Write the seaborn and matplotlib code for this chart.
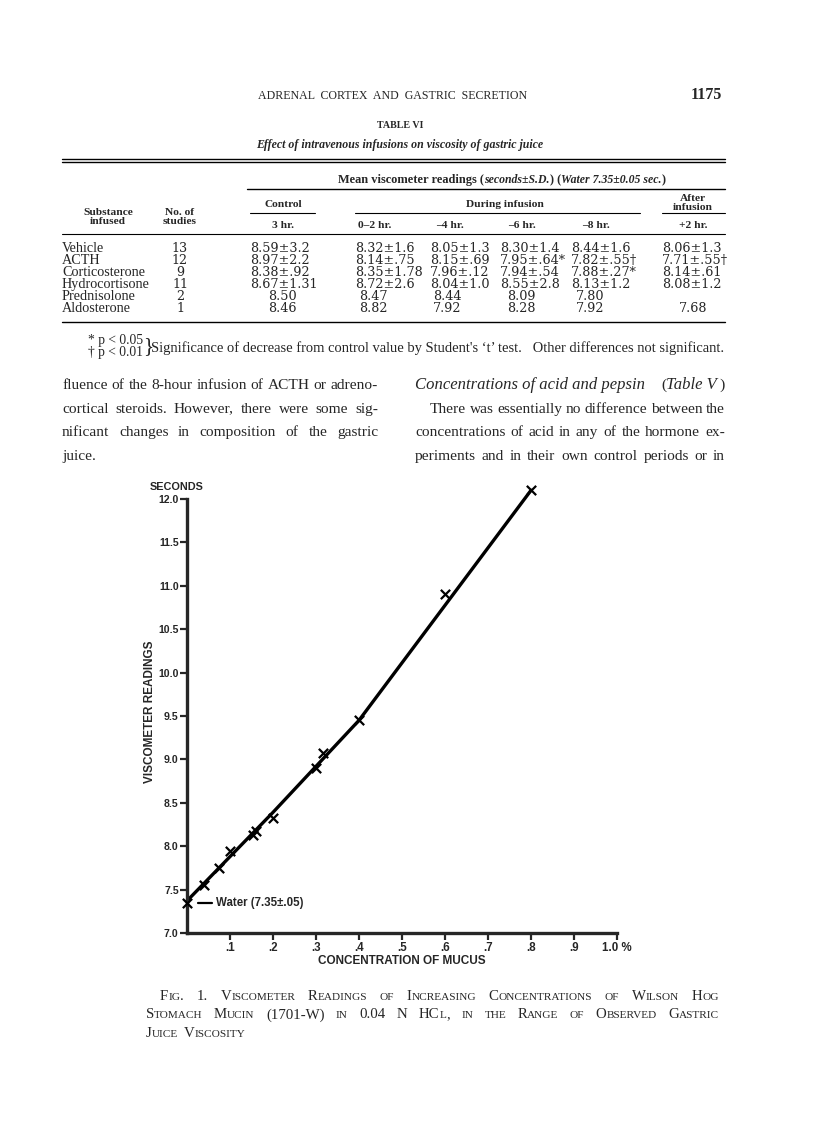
import numpy as np
import pandas as pd
import matplotlib
matplotlib.use('Agg')
import matplotlib.pyplot as plt
import seaborn as sns
from itertools import groupby

W, H = 816, 1133

# ---- chart data (Fig. 1) ----
conc = [0.0, 0.04, 0.075, 0.10, 0.153, 0.16, 0.20, 0.30, 0.317, 0.40, 0.60, 0.80]
readings = [7.35, 7.55, 7.75, 7.95, 8.13, 8.17, 8.32, 8.90, 9.07, 9.45, 10.91, 12.10]
curve_x = [0.0, 0.1, 0.2, 0.3, 0.4, 0.8]
curve_y = [7.37, 7.88, 8.39, 8.92, 9.45, 12.10]
xtick_vals = [0.1, 0.2, 0.3, 0.4, 0.5, 0.6, 0.7, 0.8, 0.9, 1.0]
xtick_labels = ['.1', '.2', '.3', '.4', '.5', '.6', '.7', '.8', '.9', '1.0 %']
ytick_vals = [7.0, 7.5, 8.0, 8.5, 9.0, 9.5, 10.0, 10.5, 11.0, 11.5, 12.0]

# ---- table VI data ----
substances = ['Vehicle', 'ACTH', 'Corticosterone', 'Hydrocortisone', 'Prednisolone', 'Aldosterone']
n_studies = ['13', '12', '9', '11', '2', '1']
control_3hr = ['8.59\u00b13.2', '8.97\u00b12.2', '8.38\u00b1.92', '8.67\u00b11.31', '8.50', '8.46']
during_2hr = ['8.32\u00b11.6', '8.14\u00b1.75', '8.35\u00b11.78', '8.72\u00b12.6', '8.47', '8.82']
during_4hr = ['8.05\u00b11.3', '8.15\u00b1.69', '7.96\u00b1.12', '8.04\u00b11.0', '8.44', '7.92']
during_6hr = ['8.30\u00b11.4', '7.95\u00b1.64*', '7.94\u00b1.54', '8.55\u00b12.8', '8.09', '8.28']
during_8hr = ['8.44\u00b11.6', '7.82\u00b1.55\u2020', '7.88\u00b1.27*', '8.13\u00b11.2', '7.80', '7.92']
after_2hr = ['8.06\u00b11.3', '7.71\u00b1.55\u2020', '8.14\u00b1.61', '8.08\u00b11.2', '', '7.68']

left_lines = ['fluence of the 8-hour infusion of ACTH or adreno-',
              'cortical steroids.  However, there were some sig-',
              'nificant changes in composition of the gastric',
              'juice.']
right_lines = ['There was essentially no difference between the',
               'concentrations of acid in any of the hormone ex-',
               'periments and in their own control periods or in']
caption = ['Fig. 1. Viscometer Readings of Increasing Concentrations of Wilson Hog',
           'Stomach Mucin (1701-W) in 0.04 N HCl, in the Range of Observed Gastric',
           'Juice Viscosity']

sns.set_style('ticks')
plt.rcParams['font.family'] = ['Liberation Serif', 'DejaVu Serif']

fig = plt.figure(figsize=(W / 100, H / 100), dpi=100)
renderer = fig.canvas.get_renderer()


def px(x, y):
    return x / W, 1 - y / H


def txt(x, y, s, **kw):
    kw.setdefault('va', 'baseline')
    return fig.text(*px(x, y), s, **kw)


def hline(x0, x1, y, lw=0.8):
    fig.add_artist(plt.Line2D([x0 / W, x1 / W], [1 - y / H, 1 - y / H],
                              color='black', lw=lw, transform=fig.transFigure))


def adv(s, **kw):
    # advance width in pixels (bar trick cancels the ink-box offsets)
    a = fig.text(0, 0, s + '|', **kw)
    b = fig.text(0, 0, '|', **kw)
    w = a.get_window_extent(renderer).width - b.get_window_extent(renderer).width
    a.remove()
    b.remove()
    return w


def runs(x, y, pieces, ha='left'):
    ws = [adv(s, **kw) for s, kw in pieces]
    total = sum(ws)
    if ha == 'center':
        x -= total / 2
    elif ha == 'right':
        x -= total
    for (s, kw), w in zip(pieces, ws):
        txt(x, y, s, ha='left', **kw)
        x += w


def justify(line, x0, x1, y, last=False, **kw):
    words = line.split()
    ws = [adv(w, **kw) for w in words]
    if last or len(words) == 1:
        gap = adv(' ', **kw)
    else:
        gap = (x1 - x0 - sum(ws)) / (len(words) - 1)
    x = x0
    for w, ww in zip(words, ws):
        txt(x, y, w, ha='left', **kw)
        x += ww + gap


def smallcaps_line(line, x0, x1, y, size, last=False):
    # lowercase letters drawn as smaller capitals
    words = []
    for w in line.split():
        pieces = []
        for low, grp in groupby(w, key=lambda c: c.islower()):
            s = ''.join(grp)
            pieces.append((s.upper(), dict(fontsize=size * 0.76 if low else size)))
        words.append(pieces)
    wws = [[adv(s, **kw) for s, kw in ps] for ps in words]
    tot = [sum(w) for w in wws]
    if last:
        gap = size * 0.5
    else:
        gap = (x1 - x0 - sum(tot)) / (len(words) - 1)
    x = x0
    for ps, ws, t in zip(words, wws, tot):
        xx = x
        for (s, kw), w in zip(ps, ws):
            txt(xx, y, s, ha='left', **kw)
            xx += w
        x += t + gap


# ---- running head ----
txt(393, 99, 'ADRENAL  CORTEX  AND  GASTRIC  SECRETION', fontsize=8.6, ha='center')
txt(722, 99, '1175', fontsize=11.5, ha='right', fontweight='bold')

# ---- table ----
txt(400, 128, 'TABLE VI', fontsize=7.2, ha='center', fontweight='bold')
txt(400, 148, 'Effect of intravenous infusions on viscosity of gastric juice',
    fontsize=8.6, ha='center', style='italic', fontweight='bold')
hline(62, 725, 159, 1.0)
hline(62, 725, 162, 1.0)
hb = dict(fontsize=8.9, fontweight='bold')
hi = dict(fontsize=8.5, fontweight='bold', style='italic')
runs(502, 183, [('Mean viscometer readings (', hb), ('seconds\u00b1S.D.', hi), (') (', hb),
                ('Water 7.35\u00b10.05 sec.', hi), (')', hb)], ha='center')
hline(247, 725, 189, 1.0)

hk = dict(fontsize=8.2, ha='center', fontweight='bold', linespacing=0.95)
txt(108, 224, 'Substance\ninfused', **hk)
txt(180, 224, 'No. of\nstudies', **hk)
txt(283, 207, 'Control', **hk)
hline(250, 315, 213)
txt(505, 207, 'During infusion', **hk)
hline(355, 640, 213)
txt(693, 210, 'After\ninfusion', **hk)
hline(662, 725, 213)
for xc, s in zip([283, 375, 450, 522, 596, 693],
                 ['3 hr.', '0\u20132 hr.', '\u20134 hr.', '\u20136 hr.', '\u20138 hr.', '+2 hr.']):
    txt(xc, 228, s, **hk)
hline(62, 725, 234)

row_y = [252, 264, 276, 288, 300, 312.5]
col_left = [250, 355, 430, 500, 571, 662]
col_mid = [282, 373, 447, 521, 590, 693]
cols = [control_3hr, during_2hr, during_4hr, during_6hr, during_8hr, after_2hr]
bk = dict(fontsize=10.2)
nk = dict(fontsize=9.2, fontfamily=['DejaVu Serif'])
for i, y in enumerate(row_y):
    txt(62, y, substances[i], ha='left', **bk)
    txt(180, y, n_studies[i], ha='center', **nk)
    for c, xl, xm in zip(cols, col_left, col_mid):
        v = c[i]
        if '\u00b1' in v:
            txt(xl, y, v, ha='left', **nk)
        else:
            txt(xm, y, v, ha='center', **nk)
hline(62, 725, 322, 1.0)

txt(88, 344, '* p < 0.05', fontsize=9.8, ha='left')
txt(88, 356, '\u2020 p < 0.01', fontsize=9.8, ha='left')
txt(143, 347, '}', fontsize=15, ha='left', va='center')
txt(151, 352, "Significance of decrease from control value by Student's \u2018t\u2019 test.   Other differences not significant.",
    fontsize=10.45, ha='left')

# ---- body text ----
tk = dict(fontsize=11.1)
for i, line in enumerate(left_lines):
    justify(line, 62, 378, 389 + i * 23.6, last=(i == len(left_lines) - 1), **tk)
ik = dict(fontsize=12.0, style='italic')
txt(415, 389, 'Concentrations of acid and pepsin', ha='left', **ik)
runs(725, 389, [('(', tk), ('Table V', ik), ('\u2009)', tk)], ha='right')
justify(right_lines[0], 430, 725, 412.6, **tk)
justify(right_lines[1], 415, 725, 436.2, **tk)
justify(right_lines[2], 415, 725, 459.8, **tk)

# ---- figure caption ----
for i, line in enumerate(caption):
    x0 = 146 if i > 0 else 160
    smallcaps_line(line, x0, 719, 1000 + i * 18.5, 10.7, last=(i == 2))

# ---- chart ----
ax = fig.add_axes([187 / W, 1 - 933 / H, 430 / W, 434 / H])
sans = ['Liberation Sans', 'DejaVu Sans']
curve = pd.DataFrame({'conc': curve_x, 'reading': curve_y})
pts = pd.DataFrame({'conc': conc, 'reading': readings})
sns.lineplot(data=curve, x='conc', y='reading', color='black', lw=2.4, ax=ax)
sns.scatterplot(data=pts, x='conc', y='reading', marker='x', s=45, color='black',
                linewidth=1.6, ax=ax, clip_on=False, zorder=5)
for l in ax.lines:
    l.set_clip_on(False)
ax.set_xlim(0, 1.0)
ax.set_ylim(7.0, 12.0)
ax.set_xticks(xtick_vals)
ax.set_xticklabels(xtick_labels, fontfamily=sans, fontweight='bold', fontsize=8.3)
ax.set_yticks(ytick_vals)
ax.set_yticklabels(['%.1f' % v for v in ytick_vals], fontfamily=sans, fontweight='bold', fontsize=7.6)
ax.tick_params(direction='out', length=5, width=1.6, pad=1.5)
ax.tick_params(axis='y', pad=1)
sns.despine(ax=ax)
for side in ['left', 'bottom']:
    ax.spines[side].set_linewidth(2.4)
ax.set_xlabel('CONCENTRATION OF MUCUS', fontfamily=sans, fontweight='bold', fontsize=8.5, labelpad=1)
ax.set_ylabel('VISCOMETER READINGS', fontfamily=sans, fontweight='bold', fontsize=8.5)
ax.yaxis.set_label_coords(-0.071, 0.509)
fig.text(*px(177, 487), 'SECONDS', fontfamily=sans, fontweight='bold', fontsize=7.8,
         ha='center', va='center')
ax.plot([0.026, 0.058], [7.35, 7.35], color='black', lw=1.6)
ax.text(0.067, 7.35, 'Water (7.35\u00b1.05)', fontfamily=sans, fontweight='bold',
        fontsize=8.3, va='center')

fig.savefig('out.png', dpi=100)
